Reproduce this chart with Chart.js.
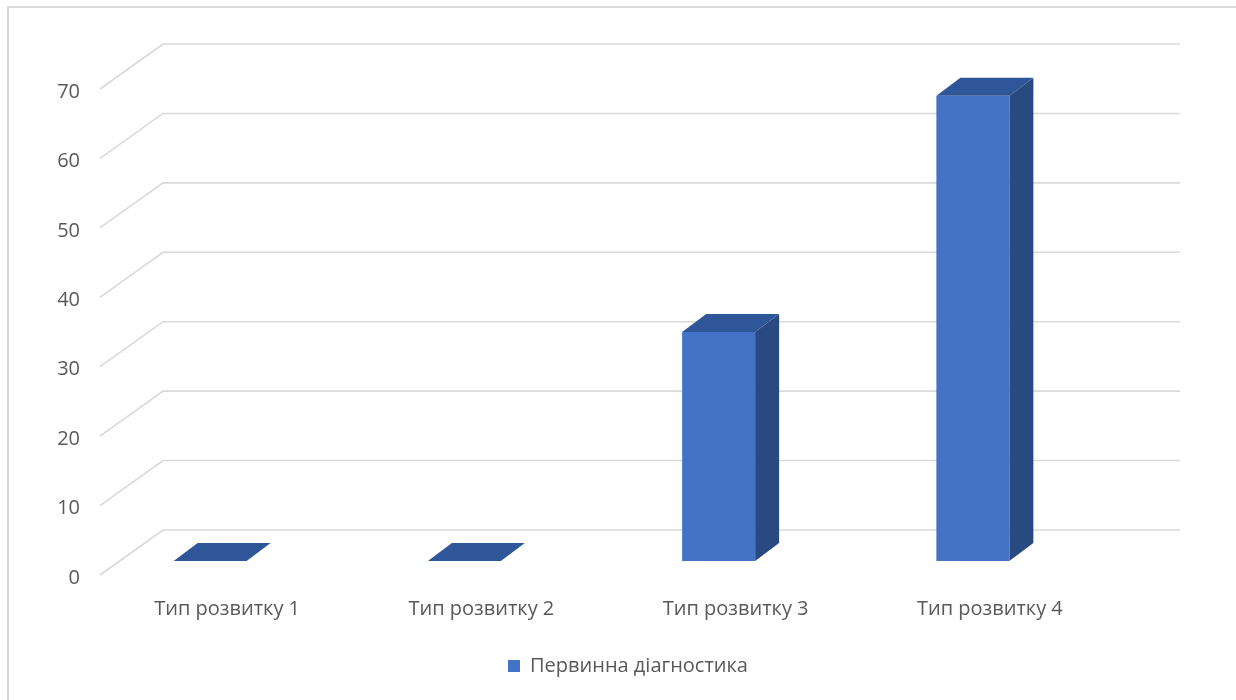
<!DOCTYPE html>
<html>
<head>
<meta charset="utf-8">
<script src="https://cdn.jsdelivr.net/npm/chart.js@4.4.1/dist/chart.umd.min.js"></script>
<style>
  html, body { margin: 0; padding: 0; background: #ffffff; }
  canvas { display: block; }
</style>
</head>
<body>
<canvas id="chart" width="1236" height="700"></canvas>
<script>
// Data
const categories = ['Тип розвитку 1', 'Тип розвитку 2', 'Тип розвитку 3', 'Тип розвитку 4'];
const seriesName = 'Первинна діагностика';
const values = [0, 0, 33, 67];
const yTicks = [0, 10, 20, 30, 40, 50, 60, 70];

// Styling
const FONT = '"Open Sans", "Liberation Sans", sans-serif';
const FONT_SIZE = 20;
const TEXT = '#595959';
const GRID = '#d9d9d9';
const FRONT = '#4472c4';
const TOP = '#30569a';
const SIDE = '#294a80';
const WALL = { dx: 63, dy: 45 };                      // depth of the side wall / floor
const BAR = { dx: 24, dy: 18, lift: 14, shift: -17 };  // depth of each column

// Pseudo-3D walls and columns
const column3d = {
  id: 'column3d',
  afterLayout(chart) {
    // centre the legend on the whole frame rather than on the plot
    const lg = chart.legend;
    if (lg) { lg.left = 20; lg.right = chart.width; }
  },
  beforeDraw(chart) {
    const ctx = chart.ctx;
    ctx.save();
    ctx.fillStyle = '#ffffff';
    ctx.fillRect(0, 0, chart.width, chart.height);
    ctx.strokeStyle = GRID;
    ctx.lineWidth = 2;
    ctx.strokeRect(8, 7, chart.width + 40, chart.height + 40);
    ctx.restore();
  },
  beforeDatasetsDraw(chart) {
    const { ctx, chartArea: a, scales: { y } } = chart;
    ctx.save();
    ctx.strokeStyle = GRID;
    ctx.lineWidth = 1.6;
    y.ticks.forEach(t => {
      const py = y.getPixelForValue(t.value);
      ctx.beginPath();
      ctx.moveTo(a.left, py);
      ctx.lineTo(a.left + WALL.dx, py - WALL.dy);
      ctx.lineTo(a.right + WALL.dx, py - WALL.dy);
      ctx.stroke();
    });
    ctx.restore();
  },
  beforeDatasetDraw(chart, args) {
    const ctx = chart.ctx;
    const meta = args.meta;
    ctx.save();
    meta.data.forEach(el => {
      const p = el.getProps(['x', 'y', 'base', 'width'], true);
      const l = p.x - p.width / 2 + BAR.shift;
      const r = l + p.width;
      const top = p.y - BAR.lift;
      const base = p.base - BAR.lift;
      // side face
      ctx.fillStyle = SIDE;
      ctx.beginPath();
      ctx.moveTo(r, top);
      ctx.lineTo(r + BAR.dx, top - BAR.dy);
      ctx.lineTo(r + BAR.dx, base - BAR.dy);
      ctx.lineTo(r, base);
      ctx.closePath();
      ctx.fill();
      // front face
      if (base - top > 0.5) {
        ctx.fillStyle = FRONT;
        ctx.fillRect(l, top, r - l, base - top);
      }
      // top face
      ctx.fillStyle = TOP;
      ctx.beginPath();
      ctx.moveTo(l, top);
      ctx.lineTo(r, top);
      ctx.lineTo(r + BAR.dx, top - BAR.dy);
      ctx.lineTo(l + BAR.dx, top - BAR.dy);
      ctx.closePath();
      ctx.fill();
    });
    ctx.restore();
    return false;
  }
};

new Chart(document.getElementById('chart'), {
  type: 'bar',
  data: {
    labels: categories,
    datasets: [{
      label: seriesName,
      data: values,
      backgroundColor: FRONT,
      borderWidth: 0,
      categoryPercentage: 1,
      barPercentage: 0.287
    }]
  },
  options: {
    responsive: false,
    animation: false,
    devicePixelRatio: 1,
    layout: { padding: { left: 50, right: 119, top: 89, bottom: 14 } },
    scales: {
      x: {
        grid: { display: false, drawTicks: false },
        border: { display: false },
        ticks: { color: TEXT, font: { family: FONT, size: FONT_SIZE }, padding: 22, maxRotation: 0 },
        afterFit(scale) { scale.height = 71; }
      },
      y: {
        min: yTicks[0],
        max: yTicks[yTicks.length - 1],
        grid: { display: false, drawTicks: false },
        border: { display: false },
        afterBuildTicks(scale) { scale.ticks = yTicks.map(v => ({ value: v })); },
        ticks: { color: TEXT, font: { family: FONT, size: FONT_SIZE }, padding: 20, labelOffset: 3 },
        afterFit(scale) { scale.width = 50; }
      }
    },
    plugins: {
      legend: {
        position: 'bottom',
        labels: {
          color: TEXT,
          font: { family: FONT, size: FONT_SIZE },
          boxWidth: 12,
          boxHeight: 12,
          padding: 10
        }
      },
      tooltip: { enabled: false }
    }
  },
  plugins: [column3d]
});
</script>
</body>
</html>
